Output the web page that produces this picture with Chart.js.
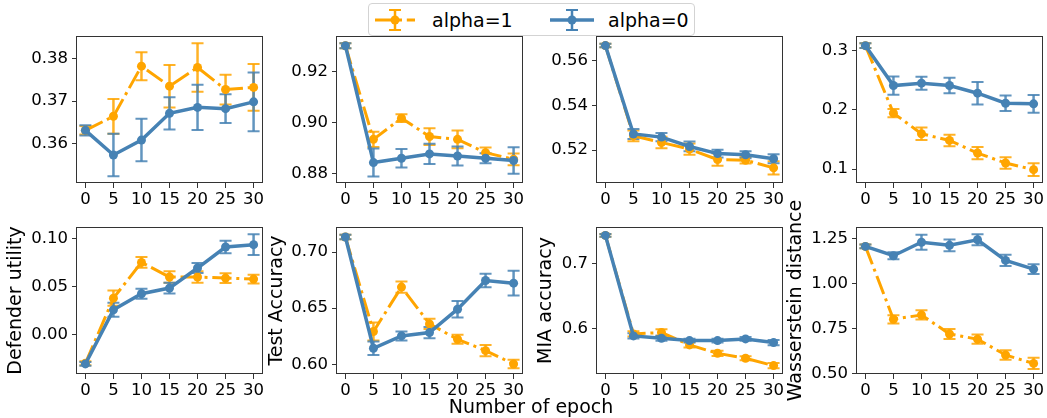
<!DOCTYPE html>
<html>
<head>
<meta charset="utf-8">
<script src="https://cdn.jsdelivr.net/npm/chart.js@4.4.1/dist/chart.umd.min.js"></script>
<style>
  body { margin: 0; background: #fff; width: 1047px; height: 418px; position: relative; overflow: hidden; font-family: "DejaVu Sans", sans-serif; }
  canvas { position: absolute; }
  #legend { position: absolute; left: 368px; top: 3px; width: 325px; height: 31px; border: 1px solid #d3d3d3; border-radius: 4px; background: #fff; }
  #legend svg { position: absolute; left: 0; top: 0; }
  .lt { position: absolute; top: 7px; font-size: 19px; line-height: 1; color: #000; white-space: nowrap; }
  #xlabel { position: absolute; left: 0; width: 1062px; text-align: center; top: 397px; font-size: 19px; line-height: 1; color: #000; }
</style>
</head>
<body>
<div id="xlabel">Number of epoch</div>
<div id="legend">
  <svg width="325" height="31">
    <line x1="6" y1="16" x2="46" y2="16" stroke="#FFA500" stroke-width="3" stroke-dasharray="19.2 4.8 3 4.8"/>
    <line x1="26" y1="6" x2="26" y2="26" stroke="#FFA500" stroke-width="2.5"/>
    <line x1="20" y1="6" x2="32" y2="6" stroke="#FFA500" stroke-width="2"/>
    <line x1="20" y1="26" x2="32" y2="26" stroke="#FFA500" stroke-width="2"/>
    <circle cx="26" cy="16" r="4.5" fill="#FFA500"/>
    <line x1="181" y1="16" x2="225" y2="16" stroke="#4682B4" stroke-width="3.5"/>
    <line x1="203" y1="6" x2="203" y2="26" stroke="#4682B4" stroke-width="2.5"/>
    <line x1="197" y1="6" x2="209" y2="6" stroke="#4682B4" stroke-width="2"/>
    <line x1="197" y1="26" x2="209" y2="26" stroke="#4682B4" stroke-width="2"/>
    <circle cx="203" cy="16" r="4.5" fill="#4682B4"/>
  </svg>
  <div class="lt" style="left:63px">alpha=1</div>
  <div class="lt" style="left:239px">alpha=0</div>
</div>
<script>
const epochs = [0, 5, 10, 15, 20, 25, 30];
const xTicks = [0, 5, 10, 15, 20, 25, 30];

// top row
const utilTopA1 = [0.3631, 0.3664, 0.3782, 0.3735, 0.3779, 0.3727, 0.3732];
const utilTopA1Err = [0.001, 0.0041, 0.0033, 0.005, 0.0057, 0.0035, 0.0055];
const utilTopA0 = [0.3631, 0.3573, 0.3608, 0.3671, 0.3685, 0.3682, 0.3698];
const utilTopA0Err = [0.0012, 0.005, 0.005, 0.0038, 0.0053, 0.0034, 0.0069];
const utilTopTicks = [0.36, 0.37, 0.38];
const utilTopLabels = ["0.36", "0.37", "0.38"];

const accTopA1 = [0.9302, 0.8935, 0.9018, 0.8946, 0.8935, 0.8883, 0.8857];
const accTopA1Err = [0.001, 0.003, 0.0015, 0.0033, 0.0035, 0.002, 0.0023];
const accTopA0 = [0.9302, 0.8844, 0.8861, 0.8878, 0.887, 0.8861, 0.8852];
const accTopA0Err = [0.001, 0.0055, 0.0036, 0.004, 0.0037, 0.002, 0.0052];
const accTopTicks = [0.88, 0.90, 0.92];
const accTopLabels = ["0.88", "0.90", "0.92"];

const miaTopA1 = [0.5669, 0.5264, 0.5234, 0.5204, 0.5157, 0.5154, 0.512];
const miaTopA1Err = [0.0008, 0.0024, 0.0026, 0.0025, 0.0028, 0.0015, 0.003];
const miaTopA0 = [0.5669, 0.5272, 0.5258, 0.5216, 0.5184, 0.5179, 0.5161];
const miaTopA0Err = [0.0008, 0.0023, 0.0019, 0.0022, 0.0017, 0.0016, 0.002];
const miaTopTicks = [0.52, 0.54, 0.56];
const miaTopLabels = ["0.52", "0.54", "0.56"];

const wdTopA1 = [0.3084, 0.1944, 0.1596, 0.1483, 0.127, 0.1101, 0.0989];
const wdTopA1Err = [0.004, 0.007, 0.0104, 0.0098, 0.0104, 0.0098, 0.0107];
const wdTopA0 = [0.3084, 0.241, 0.245, 0.241, 0.2281, 0.2112, 0.2101];
const wdTopA0Err = [0.004, 0.0155, 0.011, 0.013, 0.019, 0.013, 0.015];
const wdTopTicks = [0.1, 0.2, 0.3];
const wdTopLabels = ["0.1", "0.2", "0.3"];

// bottom row
const utilBotA1 = [-0.0296, 0.0383, 0.0756, 0.0603, 0.0603, 0.0592, 0.0582];
const utilBotA1Err = [0.002, 0.008, 0.0057, 0.006, 0.006, 0.005, 0.0045];
const utilBotA0 = [-0.0303, 0.0261, 0.0429, 0.0488, 0.0697, 0.0916, 0.0941];
const utilBotA0Err = [0.002, 0.0073, 0.0052, 0.0056, 0.0052, 0.0066, 0.0108];
const utilBotTicks = [0.0, 0.05, 0.10];
const utilBotLabels = ["0.00", "0.05", "0.10"];

const accBotA1 = [0.7134, 0.6292, 0.6688, 0.636, 0.6223, 0.6122, 0.6003];
const accBotA1Err = [0.002, 0.008, 0.005, 0.0045, 0.004, 0.005, 0.0037];
const accBotA0 = [0.7134, 0.6143, 0.6253, 0.6283, 0.6491, 0.6747, 0.6723];
const accBotA0Err = [0.002, 0.006, 0.004, 0.005, 0.0073, 0.006, 0.011];
const accBotTicks = [0.60, 0.65, 0.70];
const accBotLabels = ["0.60", "0.65", "0.70"];

const miaBotA1 = [0.744, 0.5912, 0.5933, 0.5741, 0.5611, 0.5534, 0.542];
const miaBotA1Err = [0.002, 0.004, 0.005, 0.004, 0.004, 0.003, 0.004];
const miaBotA0 = [0.744, 0.5881, 0.5845, 0.5808, 0.5808, 0.5834, 0.5777];
const miaBotA0Err = [0.002, 0.004, 0.004, 0.003, 0.003, 0.003, 0.004];
const miaBotTicks = [0.6, 0.7];
const miaBotLabels = ["0.6", "0.7"];

const wdBotA1 = [1.207, 0.801, 0.825, 0.719, 0.69, 0.602, 0.555];
const wdBotA1Err = [0.01, 0.023, 0.026, 0.028, 0.026, 0.026, 0.031];
const wdBotA0 = [1.207, 1.155, 1.23, 1.213, 1.244, 1.129, 1.08];
const wdBotA0Err = [0.01, 0.02, 0.042, 0.033, 0.031, 0.031, 0.027];
const wdBotTicks = [0.50, 0.75, 1.00, 1.25];
const wdBotLabels = ["0.50", "0.75", "1.00", "1.25"];

const orange = "#FFA500", blue = "#4682B4";

const panels = [
  {a1: utilTopA1, e1: utilTopA1Err, a0: utilTopA0, e0: utilTopA0Err, ymin: 0.3507, ymax: 0.3853, ticks: utilTopTicks, labels: utilTopLabels, col: 0, row: 0},
  {a1: accTopA1, e1: accTopA1Err, a0: accTopA0, e0: accTopA0Err, ymin: 0.8764, ymax: 0.934, ticks: accTopTicks, labels: accTopLabels, col: 1, row: 0},
  {a1: miaTopA1, e1: miaTopA1Err, a0: miaTopA0, e0: miaTopA0Err, ymin: 0.5052, ymax: 0.5712, ticks: miaTopTicks, labels: miaTopLabels, col: 2, row: 0},
  {a1: wdTopA1, e1: wdTopA1Err, a0: wdTopA0, e0: wdTopA0Err, ymin: 0.0764, ymax: 0.3247, ticks: wdTopTicks, labels: wdTopLabels, col: 3, row: 0},
  {a1: utilBotA1, e1: utilBotA1Err, a0: utilBotA0, e0: utilBotA0Err, ymin: -0.0408, ymax: 0.1125, ticks: utilBotTicks, labels: utilBotLabels, col: 0, row: 1, title: "Defender utility", tOff: 61},
  {a1: accBotA1, e1: accBotA1Err, a0: accBotA0, e0: accBotA0Err, ymin: 0.5914, ymax: 0.7223, ticks: accBotTicks, labels: accBotLabels, col: 1, row: 1, title: "Test Accuracy", tOff: 60},
  {a1: miaBotA1, e1: miaBotA1Err, a0: miaBotA0, e0: miaBotA0Err, ymin: 0.529, ymax: 0.757, ticks: miaBotTicks, labels: miaBotLabels, col: 2, row: 1, title: "MIA accuracy", tOff: 50.5},
  {a1: wdBotA1, e1: wdBotA1Err, a0: wdBotA0, e0: wdBotA0Err, ymin: 0.496, ymax: 0.315 + 1, ticks: wdBotTicks, labels: wdBotLabels, col: 3, row: 1, title: "Wasserstein distance", tOff: 61}
];

const colLeft = [77, 337, 597, 857];
const rowTop = [36, 227];
const padTop = [20, 37];
const boxW = 185, boxH = 147, axisW = 77, padRight = 15, axisH = 32;

// error bars: all bars first (like matplotlib zorder), orange then blue
const errorBars = {
  id: "errorBars",
  beforeDatasetsDraw(chart) {
    const ctx = chart.ctx, xs = chart.scales.x, ys = chart.scales.y;
    const sets = chart.data.datasets.slice().reverse();
    sets.forEach(ds => {
      ctx.save();
      ctx.strokeStyle = ds.errColor;
      ds.data.forEach((pt, i) => {
        const e = ds.errors[i];
        const px = xs.getPixelForValue(pt.x);
        const lo = ys.getPixelForValue(pt.y - e), hi = ys.getPixelForValue(pt.y + e);
        ctx.lineWidth = 2.5;
        ctx.beginPath(); ctx.moveTo(px, lo); ctx.lineTo(px, hi); ctx.stroke();
        ctx.lineWidth = 2;
        ctx.beginPath();
        ctx.moveTo(px - 6, lo); ctx.lineTo(px + 6, lo);
        ctx.moveTo(px - 6, hi); ctx.lineTo(px + 6, hi);
        ctx.stroke();
      });
      ctx.restore();
    });
  }
};

const frame = {
  id: "frame",
  afterDraw(chart, args, opts) {
    const {ctx, chartArea: a} = chart;
    ctx.save();
    ctx.strokeStyle = "#333";
    ctx.lineWidth = 1;
    ctx.strokeRect(Math.round(a.left) - 0.5, Math.round(a.top) + 0.5, Math.round(a.right - a.left) + 1, Math.round(a.bottom - a.top) - 1);
    if (opts.text) {
      ctx.fillStyle = "#000";
      ctx.font = "19px 'DejaVu Sans'";
      ctx.textAlign = "center";
      ctx.textBaseline = "middle";
      ctx.translate(a.left - opts.offset, (a.top + a.bottom) / 2);
      ctx.rotate(-Math.PI / 2);
      ctx.fillText(opts.text, 0, 0);
    }
    ctx.restore();
  }
};

const xlabelEl = document.getElementById("xlabel");

panels.forEach(p => {
  const cv = document.createElement("canvas");
  cv.width = axisW + boxW + padRight;
  cv.height = padTop[p.row] + boxH + axisH;
  cv.style.left = (colLeft[p.col] - axisW) + "px";
  cv.style.top = (rowTop[p.row] - padTop[p.row]) + "px";
  document.body.insertBefore(cv, xlabelEl);

  new Chart(cv, {
    type: "line",
    data: {
      datasets: [
        {
          label: "alpha=0",
          data: epochs.map((x, i) => ({x: x, y: p.a0[i]})),
          errors: p.e0,
          errColor: "rgba(70,130,180,0.85)",
          borderColor: blue,
          backgroundColor: blue,
          borderWidth: 3.5,
          pointRadius: 4.5,
          pointBorderWidth: 0,
          pointBackgroundColor: blue,
          order: 0
        },
        {
          label: "alpha=1",
          data: epochs.map((x, i) => ({x: x, y: p.a1[i]})),
          errors: p.e1,
          errColor: "rgba(255,165,0,0.85)",
          borderColor: orange,
          backgroundColor: orange,
          borderWidth: 3,
          borderDash: [19.2, 4.8, 3, 4.8],
          pointRadius: 4.5,
          pointBorderWidth: 0,
          pointBackgroundColor: orange,
          order: 1
        }
      ]
    },
    options: {
      responsive: false,
      animation: false,
      events: [],
      layout: {padding: {top: padTop[p.row], right: padRight, left: 0, bottom: 0}},
      plugins: {
        legend: {display: false},
        tooltip: {enabled: false},
        frame: {text: p.title || "", offset: p.tOff || 0}
      },
      scales: {
        x: {
          type: "linear",
          min: -1.5,
          max: 31.5,
          afterBuildTicks: s => { s.ticks = xTicks.map(v => ({value: v})); },
          afterFit: s => { s.height = axisH; },
          grid: {display: true, drawOnChartArea: false, drawTicks: true, tickLength: 5, color: "#333", lineWidth: 1},
          border: {display: false},
          ticks: {color: "#000", padding: 2, maxRotation: 0, font: {family: "DejaVu Sans", size: 16.5}, callback: (v, i) => String(xTicks[i])}
        },
        y: {
          min: p.ymin,
          max: p.ymax,
          afterBuildTicks: s => { s.ticks = p.ticks.map(v => ({value: v})); },
          afterFit: s => { s.width = axisW; },
          grid: {display: true, drawOnChartArea: false, drawTicks: true, tickLength: 5, color: "#333", lineWidth: 1},
          border: {display: false},
          ticks: {color: "#000", padding: 4, font: {family: "DejaVu Sans", size: 16.5}, callback: (v, i) => p.labels[i]}
        }
      }
    },
    plugins: [errorBars, frame]
  });
});
</script>
</body>
</html>
